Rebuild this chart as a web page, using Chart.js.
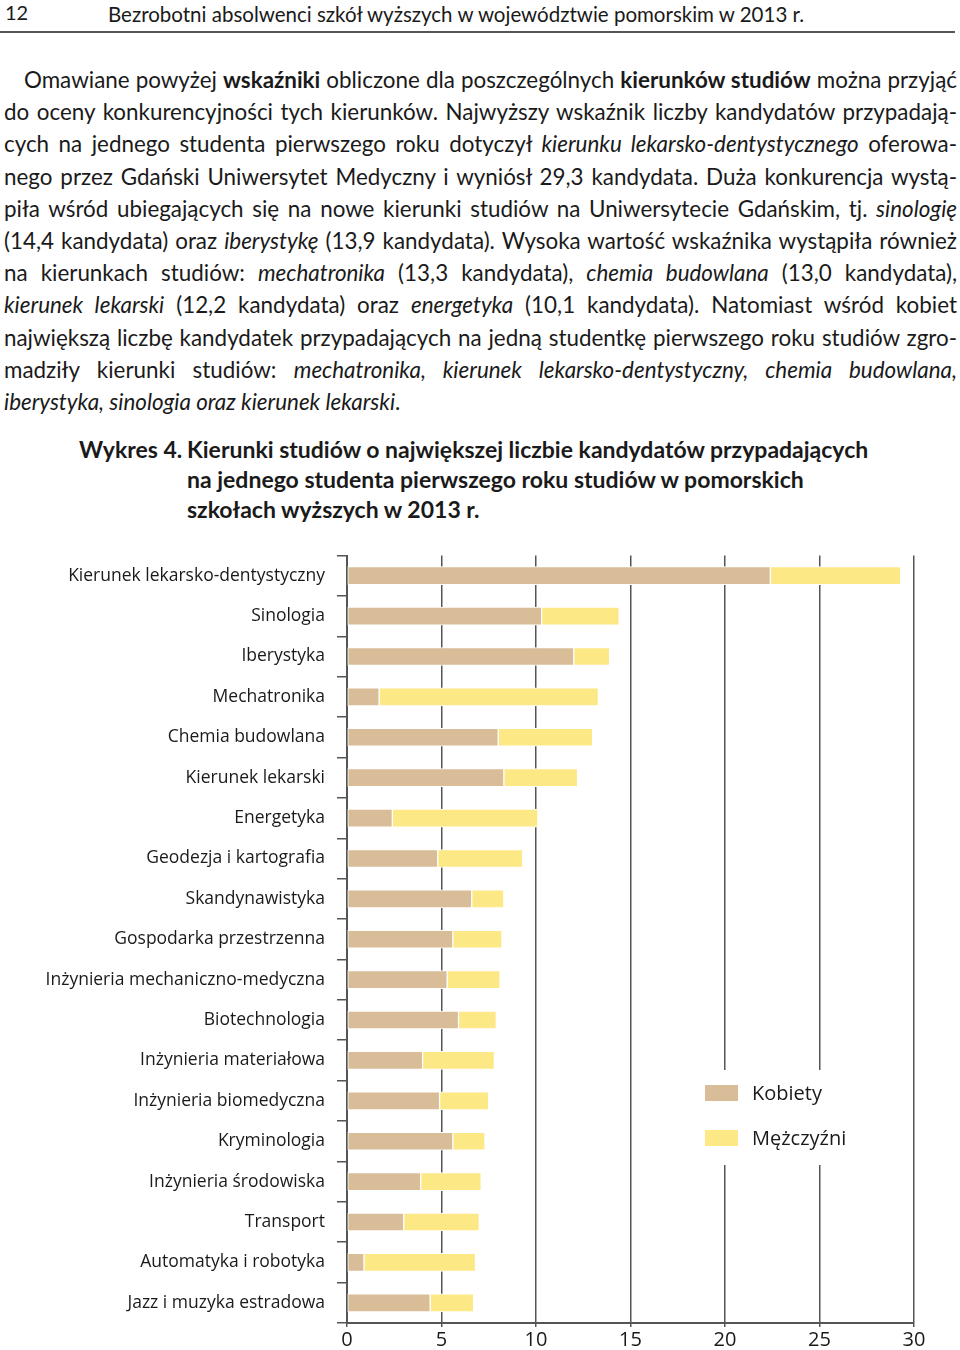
<!DOCTYPE html>
<html lang="pl">
<head>
<meta charset="utf-8">
<script src="https://cdn.jsdelivr.net/npm/chart.js@4/dist/chart.umd.min.js"></script>
<style>
  html, body { margin: 0; padding: 0; background: #fff; }
  body { width: 960px; height: 1350px; position: relative; overflow: hidden; color: #1a1a1a; font-family: Lato, sans-serif; }
  .pnum { position: absolute; left: 5px; top: 0; font-size: 20px; line-height: 24px; }
  .htitle { position: absolute; left: 108px; top: 2px; font-size: 20.5px; line-height: 24px; }
  .rule { position: absolute; left: 0; top: 31px; width: 955px; height: 2px; background: #555; }
  .para { position: absolute; left: 4px; top: 64px; width: 953px; font-size: 22.4px; line-height: 32.2px; }
  .para div { text-align: justify; text-align-last: justify; white-space: nowrap; }
  .para div.first { padding-left: 20px; }
  .para div.last { text-align-last: left; }
  .ctitle { position: absolute; left: 79px; top: 434px; font-size: 23px; line-height: 30px; font-weight: bold; display: flex; }
  .ctitle .lab { width: 108px; }
  #chart { position: absolute; left: 0; top: 533px; }
</style>
</head>
<body>
<div class="pnum">12</div>
<div class="htitle">Bezrobotni absolwenci szkół wyższych w województwie pomorskim w 2013 r.</div>
<div class="rule"></div>

<div class="para">
  <div class="first">Omawiane powyżej <b>wskaźniki</b> obliczone dla poszczególnych <b>kierunków studiów</b> można przyjąć</div>
  <div>do oceny konkurencyjności tych kierunków. Najwyższy wskaźnik liczby kandydatów przypadają-</div>
  <div>cych na jednego studenta pierwszego roku dotyczył <i>kierunku lekarsko-dentystycznego</i> oferowa-</div>
  <div>nego przez Gdański Uniwersytet Medyczny i wyniósł 29,3 kandydata. Duża konkurencja wystą-</div>
  <div>piła wśród ubiegających się na nowe kierunki studiów na Uniwersytecie Gdańskim, tj. <i>sinologię</i></div>
  <div>(14,4 kandydata) oraz <i>iberystykę</i> (13,9 kandydata). Wysoka wartość wskaźnika wystąpiła również</div>
  <div>na kierunkach studiów: <i>mechatronika</i> (13,3 kandydata), <i>chemia budowlana</i> (13,0 kandydata),</div>
  <div><i>kierunek lekarski</i> (12,2 kandydata) oraz <i>energetyka</i> (10,1 kandydata). Natomiast wśród kobiet</div>
  <div>największą liczbę kandydatek przypadających na jedną studentkę pierwszego roku studiów zgro-</div>
  <div>madziły kierunki studiów: <i>mechatronika, kierunek lekarsko-dentystyczny, chemia budowlana,</i></div>
  <div class="last"><i>iberystyka, sinologia oraz kierunek lekarski</i>.</div>
</div>

<div class="ctitle">
  <div class="lab">Wykres 4.</div>
  <div>Kierunki studiów o największej liczbie kandydatów przypadających<br>na jednego studenta pierwszego roku studiów w pomorskich<br>szkołach wyższych w 2013 r.</div>
</div>

<canvas id="chart" width="960" height="817"></canvas>

<script>
var categories = [
  'Kierunek lekarsko-dentystyczny', 'Sinologia', 'Iberystyka', 'Mechatronika',
  'Chemia budowlana', 'Kierunek lekarski', 'Energetyka', 'Geodezja i kartografia',
  'Skandynawistyka', 'Gospodarka przestrzenna', 'Inżynieria mechaniczno-medyczna',
  'Biotechnologia', 'Inżynieria materiałowa', 'Inżynieria biomedyczna', 'Kryminologia',
  'Inżynieria środowiska', 'Transport', 'Automatyka i robotyka', 'Jazz i muzyka estradowa'
]
var seriesNames = ['Kobiety', 'Mężczyźni']
var kobiety = [22.4, 10.3, 12.0, 1.7, 8.0, 8.3, 2.4, 4.8, 6.6, 5.6, 5.3, 5.9, 4.0, 4.9, 5.6, 3.9, 3.0, 0.9, 4.4]
var mezczyzni = [6.9, 4.1, 1.9, 11.6, 5.0, 3.9, 7.7, 4.5, 1.7, 2.6, 2.8, 2.0, 3.8, 2.6, 1.7, 3.2, 4.0, 5.9, 2.3]
var xTicks = [0, 5, 10, 15, 20, 25, 30]

var colors = ['#d9bd98', '#fce884']
var axisColor = '#555'

// legend sits inside the plot on a white patch, like the printed figure
var boxLegend = {
  id: 'boxLegend',
  afterDraw: function (chart) {
    var ctx = chart.ctx
    var x = 695, y = 537
    ctx.save()
    ctx.fillStyle = '#fff'
    ctx.fillRect(x, y, 170, 95)
    chart.data.datasets.forEach(function (ds, i) {
      var top = y + 15 + i * 45
      ctx.fillStyle = ds.backgroundColor
      ctx.fillRect(x + 10, top, 33, 16)
      ctx.fillStyle = '#1a1a1a'
      ctx.font = '20px "Open Sans"'
      ctx.textBaseline = 'middle'
      ctx.fillText(ds.label, x + 57, top + 9)
    })
    ctx.restore()
  }
}

Chart.defaults.font.family = '"Open Sans", sans-serif'
Chart.defaults.color = '#1a1a1a'

var chart = new Chart(document.getElementById('chart'), {
  type: 'bar',
  data: {
    labels: categories,
    datasets: [
      { label: seriesNames[0], data: kobiety, backgroundColor: colors[0] },
      { label: seriesNames[1], data: mezczyzni, backgroundColor: colors[1] }
    ]
  },
  options: {
    indexAxis: 'y',
    responsive: false,
    animation: false,
    layout: { padding: { top: 8, right: 46, left: 0, bottom: 0 } },
    datasets: {
      bar: { barThickness: 18, borderWidth: 1, borderColor: '#fff', borderSkipped: false }
    },
    plugins: {
      legend: { display: false },
      tooltip: { enabled: false }
    },
    scales: {
      x: {
        stacked: true,
        min: 0,
        max: 30,
        afterBuildTicks: function (scale) {
          scale.ticks = xTicks.map(function (v) { return { value: v } })
        },
        afterFit: function (scale) { scale.height = 27 },
        grid: { color: axisColor, lineWidth: 1.5, tickLength: 4 },
        border: { color: axisColor, width: 2 },
        ticks: { font: { size: 20 }, padding: 1, maxRotation: 0 }
      },
      y: {
        stacked: true,
        afterFit: function (scale) { scale.width = 347 },
        grid: { drawOnChartArea: false, drawTicks: true, tickLength: 10, offset: true, color: axisColor, lineWidth: 1.5 },
        border: { color: axisColor, width: 2 },
        ticks: { font: { size: 17.5 }, padding: 12, autoSkip: false }
      }
    }
  },
  plugins: [boxLegend]
})
</script>
</body>
</html>
